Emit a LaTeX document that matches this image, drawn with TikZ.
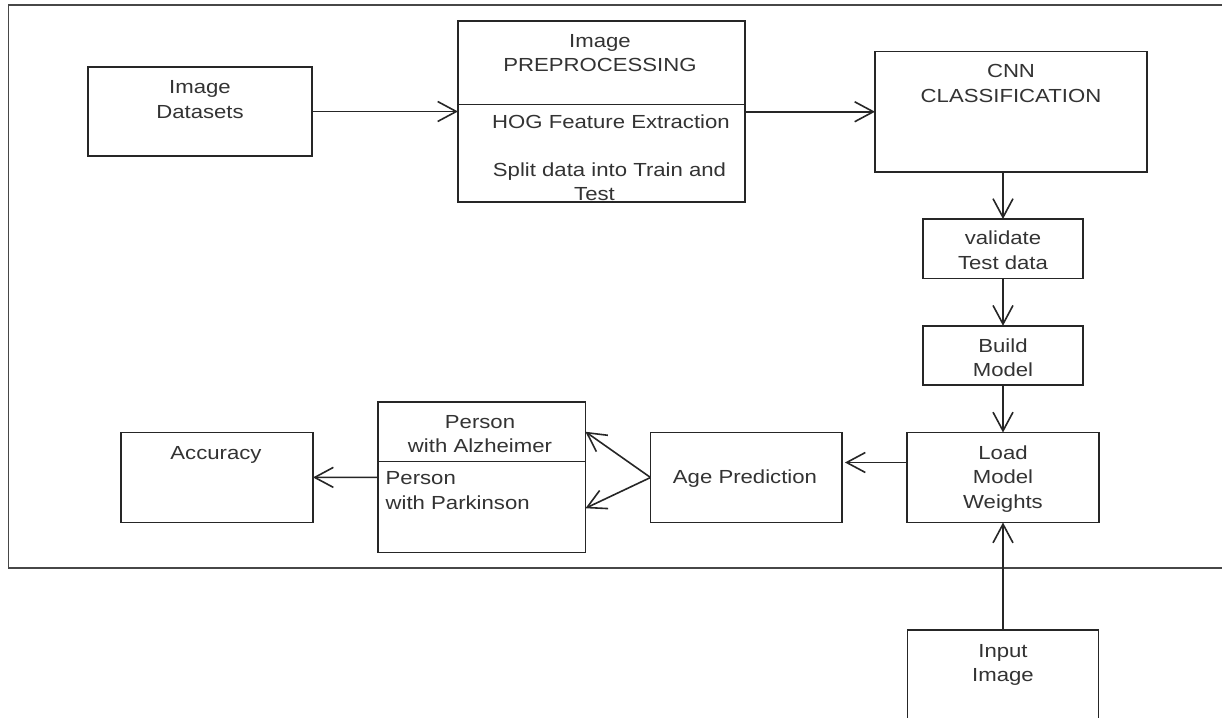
\documentclass[tikz,border=0pt]{standalone}
\usepackage{fontspec}
\setmainfont{Liberation Sans}[FakeStretch=1.17]
\usetikzlibrary{arrows.meta,calc}
\begin{document}
\begin{tikzpicture}[x=0.75pt,y=-0.75pt,
  box/.style={draw=black!85, line width=1.25pt, rectangle, inner sep=0pt, outer sep=0pt},
  txt/.style={anchor=base, inner sep=0pt, align=center, text=black!80, font=\fontsize{14.2pt}{18.3pt}\selectfont},
  ltxt/.style={txt, anchor=base west, align=left},
  arr/.style={draw=black!85, line width=1.2pt, -{Straight Barb[length=14pt,width=15pt,line width=1.2pt]}},
  divider/.style={draw=black!85, line width=1.25pt},
  frame/.style={draw=black!72, line width=1.4pt}]
\clip (0,0) rectangle (1222,718);
\fill[white] (0,0) rectangle (1222,718);
% outer frame
\draw[frame] (1240,5) -- (8.5,5) -- (8.5,568.3) -- (1240,568.3);
% boxes
\node[box, minimum width=168pt, minimum height=66.75pt] (ds) at (200,111.5) {};
\node[box, minimum width=215.25pt, minimum height=135.75pt] (pre) at (601.5,111.5) {};
\node[box, minimum width=204pt, minimum height=90.4pt] (cnn) at (1011,111.75) {};
\node[box, minimum width=120pt, minimum height=44.6pt] (val) at (1003,248.75) {};
\node[box, minimum width=120pt, minimum height=44.6pt] (bld) at (1003,355.5) {};
\node[box, minimum width=144pt, minimum height=67.5pt] (lmw) at (1003,477.5) {};
\node[box, minimum width=143.25pt, minimum height=82.5pt] (inp) at (1003,685) {};
\node[box, minimum width=143.6pt, minimum height=67.5pt] (age) at (746.25,477.5) {};
\node[box, minimum width=155.6pt, minimum height=112.9pt] (per) at (481.75,477.25) {};
\node[box, minimum width=144pt, minimum height=67.5pt] (acc) at (217,477.5) {};
% dividers
\draw[divider] ($(pre.west)+(0,-7)$) -- ($(pre.east)+(0,-7)$);
\draw[divider] ($(per.west)+(0,-15.75)$) -- ($(per.east)+(0,-15.75)$);
% texts (anchored at the baseline of the last line)
\node[txt] (t-ds) at (200,118) {Image\\Datasets};
\node[txt] (t-pre) at (600,71.7) {Image\\PREPROCESSING};
\node[txt] (t-hog) at (611,128.3) {HOG Feature Extraction};
\node[txt] (t-split) at (609.5,176.7) {Split data into Train and};
\node[txt] (t-test) at (594.5,200) {Test};
\node[txt] (t-cnn) at (1011,102.3) {CNN\\CLASSIFICATION};
\node[txt] (t-val) at (1003,269.3) {validate\\Test data};
\node[txt] (t-bld) at (1003,376.7) {Build\\Model};
\node[txt] (t-lmw) at (1003,508.3) {Load\\Model\\Weights};
\node[txt] (t-inp) at (1003,681.7) {Input\\Image};
\node[txt] (t-age) at (745,483.3) {Age Prediction};
\node[txt] (t-alz) at (480,452.7) {Person\\with Alzheimer};
\node[ltxt] (t-park) at (385.4,509.3) {Person\\with Parkinson};
\node[txt] (t-acc) at (216,459.3) {Accuracy};
% connectors
\draw[arr] (ds) -- (pre);
\draw[arr] (pre.east |- cnn.west) -- (cnn.west);
\draw[arr] (cnn.south -| val.north) -- (val.north);
\draw[arr] (val) -- (bld);
\draw[arr] (bld) -- (lmw);
\draw[arr] (inp) -- (lmw);
\coordinate (lmwa) at ($(lmw.west)+(0,-15)$);
\draw[arr, shorten >=2.25pt] (lmwa) -- (lmwa -| age.east);
\coordinate (pa) at ($(per.east)+(0,-45.5)$);
\coordinate (pb) at ($(per.east)+(0,31)$);
\draw[arr] (age.west) -- (pa);
\draw[arr] (age.west) -- (pb);
\draw[arr] (per) -- (acc);
\end{tikzpicture}
\end{document}
